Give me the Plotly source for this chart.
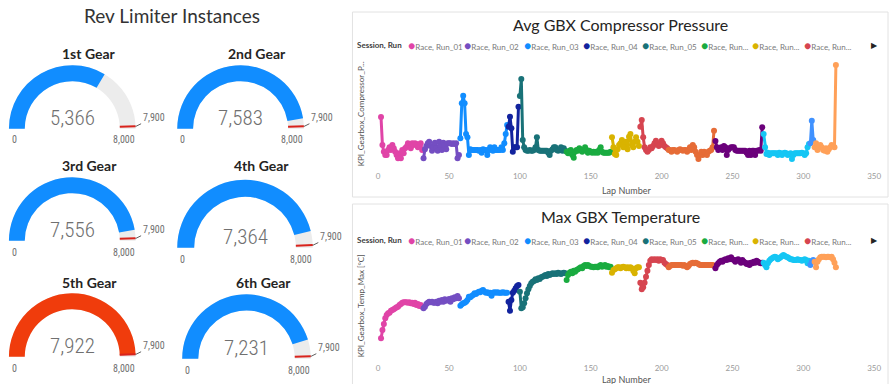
import math
import plotly.graph_objects as go

W, H = 896, 384

# ---------------- Gauge data ----------------
gear_titles = ["1st Gear", "2nd Gear", "3rd Gear", "4th Gear", "5th Gear", "6th Gear"]
gear_values = [5366, 7583, 7556, 7364, 7922, 7231]
gauge_min = 0
gauge_max = 8000
gauge_target = 7900
gauge_bar_colors = ["#118DFF", "#118DFF", "#118DFF", "#118DFF", "#F03C0C", "#118DFF"]

# ---------------- Line chart data ----------------
run_names = ["Race, Run_01", "Race, Run_02", "Race, Run_03", "Race, Run_04", "Race, Run_05",
             "Race, Run_06", "Race, Run_07", "Race, Run_08", "Race, Run_09", "Race, Run_10",
             "Race, Run_11", "Race, Run_12", "Race, Run_13"]
legend_labels = ["Race, Run_01", "Race, Run_02", "Race, Run_03", "Race, Run_04", "Race, Run_05",
                 "Race, Run...", "Race, Run...", "Race, Run..."]
run_colors = ["#E044A7", "#744EC2", "#118DFF", "#12239E", "#197278", "#1AAB40", "#D9B300",
              "#D64550", "#E66C37", "#6B007B", "#15C6F4", "#4092FF", "#FFA058"]
run_first_lap = [2, 32, 58, 92, 100, 133, 165, 185, 205, 238, 272, 305, 308]
x_ticks = [0, 50, 100, 150, 200, 250, 300, 350]

# Avg gearbox compressor pressure (relative units, one value per lap)
pressure = [
    [4.8, 2.0, 1.33, 1.0, 1.0, 1.5, 1.77, 1.5, 2.0, 1.67, 1.33, 1.0, 0.67, 1.17, 0.67, 1.5, 1.17,
     1.67, 1.83, 2.17, 2.0, 1.67, 2.17, 2.0, 2.17, 2.1, 1.77, 2.0, 2.17, 1.5],
    [0.67, 1.57, 1.9, 2.17, 2.33, 1.9, 1.43, 1.77, 2.23, 1.67, 1.43, 2.33, 1.9, 1.5, 2.23, 2.0,
     1.57, 2.17, 2.17, 2.17, 2.1, 2.17, 2.1, 2.17, 0.67, 1.0],
    [2.67, 6.17, 6.93, 6.17, 3.1, 2.77, 1.0, 1.57, 1.5, 1.5, 1.5, 1.5, 1.5, 1.43, 1.5, 1.23, 1.57,
     1.5, 1.5, 1.0, 1.5, 1.77, 1.5, 1.43, 1.77, 1.5, 1.5, 1.5, 1.5, 1.77, 1.5, 2.17, 3.1, 4.0],
    [3.83, 4.83, 3.67, 1.33, 1.77, 1.77, 1.77, 5.83],
    [6.9, 8.6, 2.5, 1.77, 1.5, 1.43, 1.43, 1.5, 1.43, 1.43, 1.5, 1.77, 2.77, 1.5, 1.43, 1.43, 1.43,
     1.43, 1.43, 1.43, 1.23, 1.0, 1.43, 1.57, 1.77, 1.77, 1.5, 1.43, 1.5, 1.77, 1.43, 1.67, 1.43],
    [1.33, 1.17, 1.43, 1.5, 1.0, 0.73, 1.33, 1.5, 1.43, 1.67, 1.5, 1.33, 1.5, 1.77, 1.5, 1.23,
     1.43, 1.33, 1.23, 1.33, 1.23, 1.33, 1.23, 1.5, 1.77, 1.33, 1.23, 1.23, 1.23, 1.23, 1.23, 1.33],
    [2.77, 1.77, 1.1, 1.0, 1.57, 2.0, 2.17, 2.5, 1.77, 2.23, 2.33, 1.57, 2.83, 3.1, 2.0, 1.77,
     2.33, 2.77, 2.33, 1.9],
    [3.83, 4.5, 2.77, 1.77, 1.5, 1.33, 1.5, 1.77, 1.67, 1.9, 2.17, 2.43, 2.17, 1.9, 2.0, 2.43,
     2.17, 1.9, 1.77, 1.67],
    [1.5, 1.5, 1.33, 1.5, 1.5, 1.43, 1.33, 1.5, 1.57, 1.5, 1.43, 1.5, 1.5, 1.33, 1.5, 1.77, 1.5,
     2.0, 1.77, 1.33, 1.0, 0.6, 1.0, 1.33, 1.0, 1.33, 1.23, 1.0, 1.33, 1.43, 1.5, 1.77, 3.43],
    [2.4, 1.77, 1.5, 1.67, 1.77, 1.5, 1.9, 1.77, 1.0, 1.5, 1.67, 1.77, 1.77, 1.77, 1.5, 1.43, 1.43,
     1.43, 1.43, 1.43, 1.43, 1.43, 1.23, 1.0, 1.43, 1.0, 1.43, 1.43, 1.0, 1.43, 1.43, 1.5, 1.43, 3.77],
    [3.1, 1.77, 1.1, 1.23, 1.0, 1.17, 1.17, 1.17, 1.17, 1.17, 1.0, 1.23, 1.17, 1.0, 1.17, 1.23,
     1.17, 1.0, 1.1, 1.17, 0.6, 1.0, 1.17, 1.17, 1.17, 1.17, 1.17, 1.23, 1.17, 1.0, 1.17, 1.77, 2.1],
    [2.17, 4.43, 2.5],
    [1.77, 2.17, 1.5, 1.77, 2.0, 1.77, 1.5, 1.43, 1.67, 1.33, 1.57, 1.77, 2.0, 1.9, 1.77, 10.0],
]

# Max gearbox temperature [°C]
temp_max = [
    [47.0, 52.0, 55.6, 59.0, 61.0, 62.0, 62.4, 63.6, 64.0, 64.4, 65.0, 65.6, 66.0, 67.0, 67.6, 68.4,
     68.6, 68.6, 68.6, 68.4, 68.6, 68.0, 68.4, 67.6, 68.4, 67.0, 67.6, 66.4, 67.0, 66.0],
    [65.0, 66.0, 67.6, 68.4, 69.0, 68.6, 69.0, 68.4, 68.4, 69.0, 68.0, 69.6, 69.0, 70.0, 69.0, 70.4,
     69.6, 70.0, 70.6, 69.0, 71.0, 70.4, 71.6, 71.0, 72.4, 71.0],
    [66.6, 67.4, 68.0, 68.4, 69.0, 70.0, 72.0, 71.6, 72.4, 73.0, 74.0, 73.6, 74.4, 75.0, 74.6, 75.6,
     76.0, 75.0, 74.4, 74.6, 74.0, 74.4, 72.6, 74.4, 74.6, 74.4, 74.6, 74.4, 74.4, 74.4, 74.6, 74.4,
     74.4, 74.4],
    [69.0, 63.6, 70.0, 74.4, 75.6, 77.0, 78.4, 79.0],
    [75.0, 65.0, 65.6, 68.0, 71.0, 74.0, 76.4, 78.4, 80.0, 81.0, 81.4, 82.4, 82.0, 83.0, 82.6, 83.6,
     84.0, 84.4, 85.0, 84.4, 85.6, 85.0, 85.4, 86.0, 85.6, 86.0, 85.6, 86.4, 86.0, 85.6, 86.0, 86.4, 86.0],
    [82.0, 85.0, 86.4, 87.0, 86.0, 87.6, 87.0, 88.0, 88.4, 89.0, 89.6, 89.0, 90.4, 91.0, 90.4, 91.0,
     90.4, 90.0, 90.0, 89.6, 90.0, 90.0, 89.6, 90.4, 91.0, 90.0, 90.4, 91.0, 90.0, 90.4, 89.6, 90.0],
    [86.4, 88.0, 88.4, 89.0, 89.6, 89.6, 89.0, 89.6, 90.0, 89.6, 89.0, 89.6, 89.0, 89.6, 89.0, 87.6,
     86.0, 89.0, 89.6, 89.6],
    [80.4, 76.4, 77.6, 80.4, 84.0, 87.6, 91.0, 93.6, 94.4, 94.0, 94.4, 94.0, 94.4, 93.6, 94.4, 94.0,
     94.0, 92.4, 91.6, 91.0],
    [89.6, 90.4, 91.0, 91.0, 91.0, 91.0, 91.0, 91.0, 91.0, 91.0, 90.6, 91.0, 90.4, 89.6, 90.4, 91.6,
     92.0, 92.4, 92.0, 92.4, 92.0, 91.6, 91.0, 91.0, 91.0, 91.0, 91.0, 91.0, 91.0, 91.0, 91.0, 91.0, 90.6],
    [89.0, 91.0, 92.0, 93.0, 93.6, 93.0, 94.0, 94.4, 94.0, 95.0, 94.4, 95.6, 94.4, 94.0, 93.0, 94.0,
     94.4, 93.6, 92.4, 94.0, 93.0, 92.4, 91.6, 92.0, 91.0, 92.4, 92.0, 93.0, 92.4, 93.6, 93.0, 92.4,
     92.0, 92.4],
    [92.4, 91.0, 89.6, 92.0, 93.6, 94.4, 95.0, 95.6, 96.0, 95.6, 94.4, 95.0, 95.6, 96.4, 97.0, 96.4,
     96.0, 95.6, 95.0, 94.4, 94.4, 94.0, 94.0, 94.0, 94.4, 94.0, 94.0, 93.6, 94.0, 94.4, 94.0, 92.0, 93.6],
    [91.0, 93.0, 94.0],
    [93.0, 89.6, 93.0, 94.4, 95.6, 96.0, 96.0, 96.0, 95.6, 96.0, 96.0, 95.6, 96.0, 94.4, 92.4, 89.6],
]

# ---------------- Layout helpers (pixels -> paper) ----------------
def fx(px):
    return px / W

def fy(py):
    return 1 - py / H

FONT = "Lato, 'Open Sans', sans-serif"
NUM_FONT = "'Roboto Condensed', 'Liberation Sans Narrow', 'DejaVu Sans Condensed', Lato, sans-serif"

annotations = []
shapes = []

def ann(px, py, text, size, color, family=FONT, xanchor="center", weight=None, **kw):
    f = dict(family=family, size=size, color=color)
    if weight is not None:
        f["weight"] = weight
    d = dict(x=fx(px), y=fy(py), xref="paper", yref="paper", text=text, xanchor=xanchor,
             yanchor="middle", showarrow=False, font=f)
    d.update(kw)
    annotations.append(d)

gauge_boxes = [(7, 135, 65, 129), (177, 305, 65, 129), (7, 135, 177, 241),
               (177, 314, 179.5, 248), (7, 135, 293, 357), (182, 312, 294, 359)]
gauge_title_y = [53, 53, 165, 165, 282, 282]

fig = go.Figure()

for i, (l, r, t, b) in enumerate(gauge_boxes):
    fig.add_trace(go.Indicator(
        mode="gauge",
        value=gear_values[i],
        domain=dict(x=[fx(l), fx(r)], y=[fy(b), fy(t)]),
        gauge=dict(
            shape="angular",
            axis=dict(range=[gauge_min, gauge_max], visible=False),
            bar=dict(color=gauge_bar_colors[i], thickness=1, line=dict(width=0)),
            bgcolor="#ECECEC",
            borderwidth=0,
            threshold=dict(line=dict(color="#D9231C", width=2), thickness=1, value=gauge_target),
        ),
    ))
    cx = (l + r) / 2
    R = (r - l) / 2
    ann(cx + 17, gauge_title_y[i], gear_titles[i], 14, "#252423", weight="bold")
    ann(cx, b - 11, f"{gear_values[i]:,}", 21, "#707070", family=NUM_FONT, weight=300)
    ann(l + 1, b + 11, f"{gauge_min:,}", 10, "#707070", family=NUM_FONT, xanchor="left")
    ann(r + 1, b + 11, f"{gauge_max:,}", 10, "#707070", family=NUM_FONT, xanchor="right")
    # target label with leader line
    th = math.pi * (1 - gauge_target / gauge_max)
    px_t = cx + R * math.cos(th)
    py_t = b - R * math.sin(th)
    ann(px_t, py_t, f"{gauge_target:,}", 10, "#707070", family=NUM_FONT,
        showarrow=True, arrowhead=0, arrowwidth=1, arrowcolor="#606060", standoff=0, ax=18, ay=-9)

ann(172, 16, "Rev Limiter Instances", 19, "#333333")

# ---------------- Line charts ----------------
PLOT_L, PLOT_R = 380, 881
charts = [
    dict(data=pressure, xa="x", ya="y", top=58, bottom=170, yrange=[-0.5, 10.7],
         title="Avg GBX Compressor Pressure", title_y=24, legend_y=45,
         ytitle="KPI_Gearbox_Compressor_P...", xtitle_y=190, card=(354, 895, 12, 197)),
    dict(data=temp_max, xa="x2", ya="y2", top=250, bottom=362, yrange=[32.8, 100],
         title="Max GBX Temperature", title_y=216, legend_y=240,
         ytitle="KPI_Gearbox_Temp_Max [°C]", xtitle_y=379, card=(354, 895, 204, 386)),
]
legend_dot_x = [412.7, 470, 530, 590, 649, 708.6, 761, 813]

for c in charts:
    for k, vals in enumerate(c["data"]):
        laps = list(range(run_first_lap[k], run_first_lap[k] + len(vals)))
        fig.add_trace(go.Scatter(
            x=laps, y=vals, mode="lines+markers", name=run_names[k],
            line=dict(color=run_colors[k], width=3),
            marker=dict(color=run_colors[k], size=6),
            xaxis=c["xa"], yaxis=c["ya"], showlegend=False, cliponaxis=False,
        ))
    x0, x1, y0, y1 = c["card"]
    shapes.append(dict(type="rect", xref="paper", yref="paper", x0=fx(x0), x1=fx(x1),
                       y0=fy(y1), y1=fy(y0), line=dict(color="#E2E2E2", width=1), layer="below"))
    ann(625, c["title_y"], c["title"], 16, "#252423")
    ann(357, c["legend_y"], "Session, Run", 8, "#404040", xanchor="left", weight="bold")
    for j, lab in enumerate(legend_labels):
        ann(legend_dot_x[j] - 5, c["legend_y"],
            f'<span style="color:{run_colors[j]};font-size:12px">●</span>{lab}',
            8, "#7A7A7A", xanchor="left")
    ann(881, c["legend_y"], "▶", 8, "#252423")
    ann(363, (c["top"] + c["bottom"]) / 2, c["ytitle"], 8, "#555555", textangle=-90)
    ann((PLOT_L + PLOT_R) / 2, c["xtitle_y"], "Lap Number", 9, "#555555")

axis_common_x = dict(range=[0, 350], tickvals=x_ticks, showgrid=False, zeroline=False, showline=False,
                     ticks="", tickfont=dict(family=FONT, size=8, color="#9A9A9A"),
                     domain=[fx(PLOT_L), fx(PLOT_R)], fixedrange=True)
axis_common_y = dict(showgrid=False, zeroline=False, showline=False, showticklabels=False, ticks="",
                     fixedrange=True)

fig.update_layout(
    width=W, height=H,
    margin=dict(l=0, r=0, t=0, b=0),
    paper_bgcolor="white", plot_bgcolor="white",
    showlegend=False,
    hovermode=False,
    xaxis=dict(**axis_common_x, anchor="y"),
    yaxis=dict(**axis_common_y, anchor="x", range=charts[0]["yrange"],
               domain=[fy(charts[0]["bottom"]), fy(charts[0]["top"])]),
    xaxis2=dict(**axis_common_x, anchor="y2"),
    yaxis2=dict(**axis_common_y, anchor="x2", range=charts[1]["yrange"],
                domain=[fy(charts[1]["bottom"]), fy(charts[1]["top"])]),
    annotations=annotations,
    shapes=shapes,
    font=dict(family=FONT),
)

fig.write_html("out.html", config={"displayModeBar": False},
               post_script="document.body.style.margin='0px';")
